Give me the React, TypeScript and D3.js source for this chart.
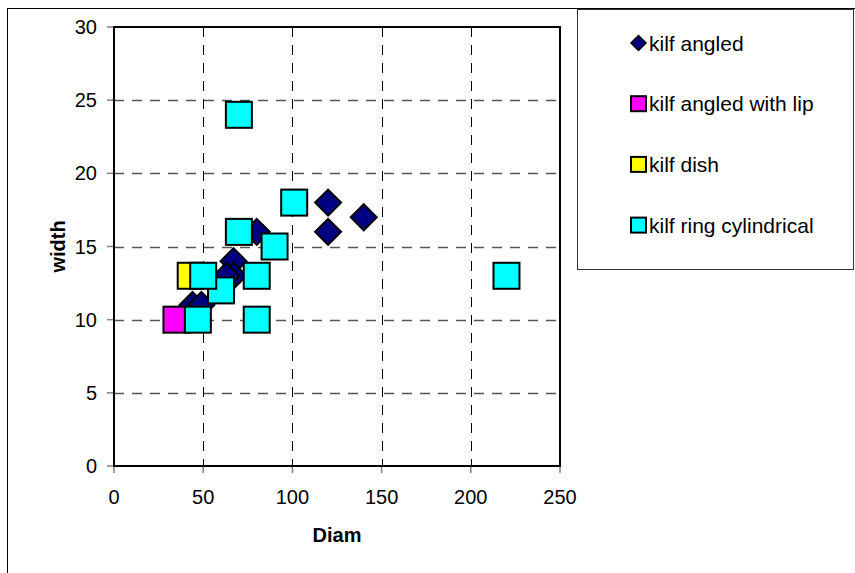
import React, { useEffect, useRef } from 'react'
import * as d3 from 'd3'

// series values
const angledDiam = [120, 120, 140, 80, 67, 67, 63, 44, 49]
const angledWidth = [18, 16, 17, 16, 14, 13, 13, 11, 11]
const lipDiam = [35]
const lipWidth = [10]
const dishDiam = [43]
const dishWidth = [13]
const ringDiam = [70, 101, 70, 90, 80, 60, 50, 47, 80, 220]
const ringWidth = [24, 18, 16, 15, 13, 12, 13, 10, 10, 13]

const xTicks = [0, 50, 100, 150, 200, 250]
const yTicks = [0, 5, 10, 15, 20, 25, 30]

const seriesNames = ['kilf angled', 'kilf angled with lip', 'kilf dish', 'kilf ring cylindrical']
const seriesColors = ['#000080', '#ff00ff', '#ffff00', '#00ffff']
const seriesShapes = ['diamond', 'square', 'square', 'square']

const W = 855
const H = 573
const FONT = 'Liberation Sans, Arial, sans-serif'

export default function App() {
  const svgRef = useRef<SVGSVGElement>(null)

  useEffect(() => {
    if (!svgRef.current) return
    const svg = d3.select(svgRef.current)
    svg.selectAll('*').remove()

    const x = d3.scaleLinear().domain([0, 250]).range([114, 560])
    const y = d3.scaleLinear().domain([0, 30]).range([466, 27])

    // chart frame
    svg.append('rect')
      .attr('x', 7.5).attr('y', 8.5)
      .attr('width', W + 20).attr('height', H + 20)
      .attr('fill', '#fff').attr('stroke', '#000').attr('stroke-width', 1)

    // grid
    const grid = svg.append('g')
    grid.selectAll('line.h')
      .data(yTicks.slice(1, -1))
      .join('line')
      .attr('class', 'h')
      .attr('x1', x(0)).attr('x2', x(250))
      .attr('y1', (d) => Math.round(y(d)) + 0.5).attr('y2', (d) => Math.round(y(d)) + 0.5)
      .attr('stroke', '#555').attr('stroke-width', 1.3)
      .attr('stroke-dasharray', '10,8')
    grid.selectAll('line.v')
      .data(xTicks.slice(1, -1))
      .join('line')
      .attr('class', 'v')
      .attr('y1', y(30)).attr('y2', y(0))
      .attr('x1', (d) => Math.round(x(d)) + 0.5).attr('x2', (d) => Math.round(x(d)) + 0.5)
      .attr('stroke', '#000').attr('stroke-width', 1)
      .attr('stroke-dasharray', '10,8')

    // ticks
    svg.append('g').selectAll('line')
      .data(yTicks)
      .join('line')
      .attr('x1', x(0) - 7).attr('x2', x(0))
      .attr('y1', (d) => y(d)).attr('y2', (d) => y(d))
      .attr('stroke', '#808080').attr('stroke-width', 1.5)
    svg.append('g').selectAll('line')
      .data(xTicks)
      .join('line')
      .attr('y1', y(0)).attr('y2', y(0) + 7)
      .attr('x1', (d) => x(d)).attr('x2', (d) => x(d))
      .attr('stroke', '#808080').attr('stroke-width', 1.5)

    // plot border
    svg.append('rect')
      .attr('x', x(0)).attr('y', y(30))
      .attr('width', x(250) - x(0)).attr('height', y(0) - y(30))
      .attr('fill', 'none').attr('stroke', '#000').attr('stroke-width', 2)

    // tick labels
    svg.append('g').selectAll('text')
      .data(yTicks)
      .join('text')
      .attr('x', 97).attr('y', (d) => y(d) + 7)
      .attr('text-anchor', 'end')
      .attr('font-family', FONT).attr('font-size', 20)
      .text((d) => d)
    svg.append('g').selectAll('text')
      .data(xTicks)
      .join('text')
      .attr('x', (d) => x(d)).attr('y', 504)
      .attr('text-anchor', 'middle')
      .attr('font-family', FONT).attr('font-size', 20)
      .text((d) => d)

    // axis titles
    svg.append('text')
      .attr('x', (x(0) + x(250)) / 2).attr('y', 542)
      .attr('text-anchor', 'middle')
      .attr('font-family', FONT).attr('font-size', 20).attr('font-weight', 'bold')
      .text('Diam')
    svg.append('text')
      .attr('transform', `translate(65,${(y(0) + y(30)) / 2}) rotate(-90)`)
      .attr('text-anchor', 'middle')
      .attr('font-family', FONT).attr('font-size', 20).attr('font-weight', 'bold')
      .text('width')

    // markers
    const diamond = (s: number) => `M0,${-s}L${s},0L0,${s}L${-s},0Z`
    const series = [
      [angledDiam, angledWidth],
      [lipDiam, lipWidth],
      [dishDiam, dishWidth],
      [ringDiam, ringWidth],
    ]
    const marks = svg.append('g')
    series.forEach(([xs, ys], i) => {
      const pts = xs.map((v, j) => [v, ys[j]])
      const g = marks.append('g')
      if (seriesShapes[i] === 'diamond') {
        g.selectAll('path')
          .data(pts)
          .join('path')
          .attr('transform', (d) => `translate(${x(d[0])},${y(d[1])})`)
          .attr('d', diamond(13))
          .attr('fill', seriesColors[i]).attr('stroke', '#000').attr('stroke-width', 2)
      } else {
        g.selectAll('rect')
          .data(pts)
          .join('rect')
          .attr('x', (d) => x(d[0]) - 13).attr('y', (d) => y(d[1]) - 13)
          .attr('width', 26).attr('height', 26)
          .attr('fill', seriesColors[i]).attr('stroke', '#000').attr('stroke-width', 2)
      }
    })

    // legend
    const leg = svg.append('g')
    leg.append('rect')
      .attr('x', 577.5).attr('y', 9.5)
      .attr('width', 276).attr('height', 260)
      .attr('fill', '#fff').attr('stroke', '#333').attr('stroke-width', 1)
    seriesNames.forEach((name, i) => {
      const cy = 43 + i * 60.7
      if (seriesShapes[i] === 'diamond') {
        leg.append('path')
          .attr('transform', `translate(638.5,${cy})`)
          .attr('d', diamond(7.5))
          .attr('fill', seriesColors[i]).attr('stroke', '#000').attr('stroke-width', 1.5)
      } else {
        leg.append('rect')
          .attr('x', 631).attr('y', cy - 7.5)
          .attr('width', 15).attr('height', 15)
          .attr('fill', seriesColors[i]).attr('stroke', '#000').attr('stroke-width', 2)
      }
      leg.append('text')
        .attr('x', 649).attr('y', cy + 7.5)
        .attr('font-family', FONT).attr('font-size', 21)
        .text(name)
    })
  }, [])

  return (
    <svg
      ref={svgRef}
      width={W}
      height={H}
      style={{ position: 'fixed', left: 0, top: 0, display: 'block', background: '#fff' }}
    />
  )
}
